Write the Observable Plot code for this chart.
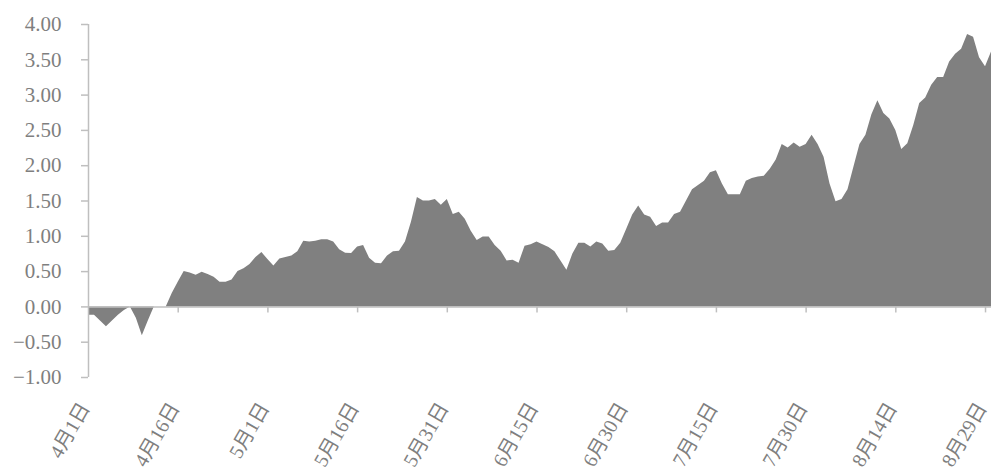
<!DOCTYPE html>
<html>
<head>
<meta charset="utf-8">
<script src="https://cdn.jsdelivr.net/npm/d3@7"></script>
<script src="https://cdn.jsdelivr.net/npm/@observablehq/plot@0.6"></script>
<style>
  html, body { margin: 0; padding: 0; background: #fff; }
  #chart svg { display: block; }
  #chart svg text { font-family: "Liberation Serif", "Noto Sans CJK SC", serif !important; }
</style>
</head>
<body>
<div id="chart"></div>
<script>
// Daily series starting 4月1日
const startDate = "2021-04-01";
const values = [
  -0.12, -0.12, -0.20, -0.28, -0.20, -0.12, -0.05, 0.00, -0.16, -0.41,
  -0.20, 0.00, 0.00, 0.00, 0.19, 0.35, 0.50, 0.48, 0.45, 0.49,
  0.46, 0.42, 0.35, 0.35, 0.38, 0.50, 0.54, 0.60, 0.70, 0.77,
  0.67, 0.58, 0.68, 0.70, 0.72, 0.78, 0.93, 0.92, 0.93, 0.95,
  0.95, 0.92, 0.81, 0.76, 0.755, 0.85, 0.87, 0.69, 0.62, 0.61,
  0.72, 0.78, 0.79, 0.92, 1.20, 1.55, 1.50, 1.50, 1.52, 1.44,
  1.52, 1.31, 1.34, 1.24, 1.07, 0.94, 0.99, 0.99, 0.87, 0.79,
  0.65, 0.66, 0.62, 0.86, 0.88, 0.92, 0.88, 0.84, 0.78, 0.65,
  0.52, 0.75, 0.90, 0.90, 0.85, 0.92, 0.89, 0.79, 0.80, 0.90,
  1.10, 1.30, 1.43, 1.30, 1.27, 1.14, 1.19, 1.19, 1.31, 1.34,
  1.50, 1.66, 1.72, 1.78, 1.90, 1.93, 1.74, 1.59, 1.59, 1.59,
  1.78, 1.82, 1.84, 1.85, 1.95, 2.08, 2.30, 2.25, 2.32, 2.26,
  2.30, 2.43, 2.30, 2.12, 1.74, 1.49, 1.52, 1.66, 1.98, 2.30,
  2.43, 2.72, 2.92, 2.74, 2.66, 2.50, 2.23, 2.31, 2.57, 2.88,
  2.96, 3.14, 3.25, 3.25, 3.47, 3.58, 3.65, 3.86, 3.82, 3.53,
  3.40, 3.61
];
const xTickDates = ["2021-04-01", "2021-04-16", "2021-05-01", "2021-05-16", "2021-05-31",
  "2021-06-15", "2021-06-30", "2021-07-15", "2021-07-30", "2021-08-14", "2021-08-29"];
const yTicks = [-1, -0.5, 0, 0.5, 1, 1.5, 2, 2.5, 3, 3.5, 4];

const start = new Date(startDate + "T00:00:00Z");
const data = values.map((v, i) => ({date: d3.utcDay.offset(start, i), value: v}));
const xTicks = xTickDates.map(d => new Date(d + "T00:00:00Z"));
const fmtDate = d => `${d.getUTCMonth() + 1}月${d.getUTCDate()}日`;

const axisGray = "#bfbfbf";
const textGray = "#7f7f7f";

const chart = Plot.plot({
  width: 993,
  height: 475,
  marginTop: 24,
  marginBottom: 98,
  marginLeft: 88,
  marginRight: 2,
  style: {background: "#fff"},
  x: {type: "utc", domain: [data[0].date, data[data.length - 1].date], axis: null},
  y: {domain: [-1, 4], axis: null},
  marks: [
    Plot.areaY(data, {x: "date", y: "value", fill: "#808080"}),
    Plot.ruleY([0], {stroke: axisGray, strokeWidth: 1.5}),
    Plot.ruleX([data[0].date], {stroke: axisGray, strokeWidth: 1.5}),
    Plot.ruleX(xTicks.slice(1), {x: d => d, y1: 0, y2: 0, insetBottom: -6, stroke: axisGray, strokeWidth: 1.5}),
    Plot.axisY({
      ticks: yTicks, tickFormat: d3.format(".2f"), tickSize: 7, tickPadding: 20, label: null,
      stroke: axisGray, strokeWidth: 1.5, fill: textGray, fontSize: 21
    }),
    Plot.text(xTicks, {
      x: d => d, text: fmtDate, frameAnchor: "bottom", rotate: -60,
      textAnchor: "end", lineAnchor: "middle", dx: -3.5, dy: 27,
      fill: textGray, fontSize: 20
    })
  ]
});
document.getElementById("chart").appendChild(chart);
</script>
</body>
</html>
